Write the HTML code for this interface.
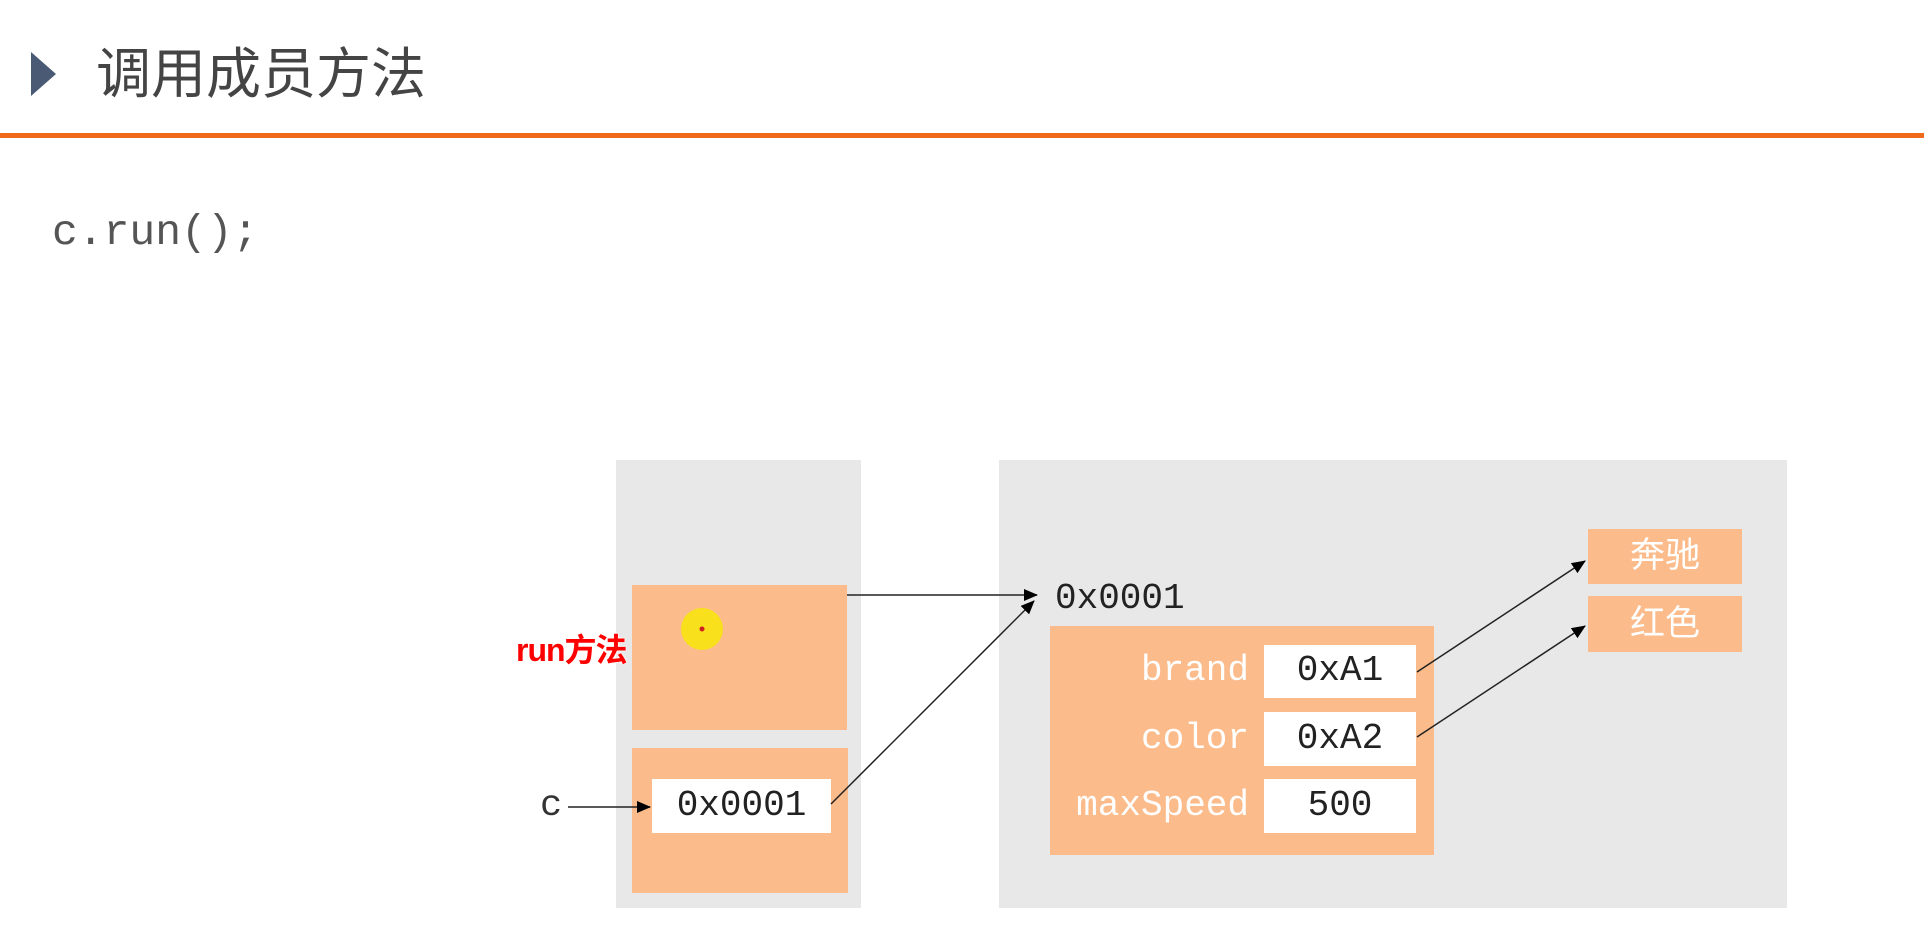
<!DOCTYPE html>
<html><head><meta charset="utf-8"><style>
body{margin:0;width:1924px;height:952px;background:#fff;position:relative;overflow:hidden;font-family:"Liberation Sans","Noto Sans CJK SC",sans-serif}
.a{position:absolute}
.mono{font-family:"Liberation Mono","Noto Sans CJK SC",monospace}
</style></head><body>
<svg class="a" style="left:0;top:0" width="1924" height="952">
<polygon points="31,52 56,74 31,96" fill="#4a5a75"/>
<rect x="0" y="133" width="1924" height="5" fill="#f06a1c"/>
<rect x="616" y="460" width="245" height="448" fill="#e8e8e8"/>
<rect x="999" y="460" width="788" height="448" fill="#e8e8e8"/>
<rect x="632" y="585" width="215" height="145" fill="#fbbb8b"/>
<rect x="632" y="748" width="216" height="145" fill="#fbbb8b"/>
<rect x="652" y="779" width="179" height="54" fill="#fff"/>
<rect x="1050" y="626" width="384" height="229" fill="#fbbb8b"/>
<rect x="1264" y="645" width="152" height="53" fill="#fff"/>
<rect x="1264" y="712" width="152" height="54" fill="#fff"/>
<rect x="1264" y="779" width="152" height="54" fill="#fff"/>
<rect x="1588" y="529" width="154" height="55" fill="#fbbb8b"/>
<rect x="1588" y="596" width="154" height="56" fill="#fbbb8b"/>
<circle cx="702" cy="629" r="21" fill="#f8e01c"/>
<circle cx="702" cy="629" r="2.5" fill="#d02020"/>
<defs><marker id="m" markerWidth="14" markerHeight="12" refX="13" refY="6" orient="auto" markerUnits="userSpaceOnUse"><path d="M0,0 L14,6 L0,12 z" fill="#000"/></marker></defs>
<g stroke="#222" stroke-width="1.5" fill="none" marker-end="url(#m)">
<line x1="568" y1="807" x2="650" y2="807"/>
<line x1="847" y1="595" x2="1037" y2="595"/>
<line x1="831" y1="804" x2="1034" y2="601"/>
<line x1="1417" y1="672" x2="1585" y2="561"/>
<line x1="1417" y1="737" x2="1585" y2="626"/>
</g>
</svg>
<div class="a" style="left:96px;top:42px;font-size:55px;color:#444;line-height:64px">调用成员方法</div>
<div class="a mono" style="left:52px;top:210px;font-size:43px;color:#555;line-height:46px">c.run();</div>
<div class="a mono" style="left:540px;top:786px;font-size:37px;color:#333;line-height:40px">c</div>
<div class="a mono" style="left:652px;top:786px;width:179px;text-align:center;font-size:36px;color:#222;line-height:40px">0x0001</div>
<div class="a mono" style="left:1055px;top:579px;font-size:36px;color:#222;line-height:40px">0x0001</div>
<div class="a mono" style="left:1050px;top:651px;width:199px;text-align:right;font-size:36px;color:#fff;line-height:40px">brand</div>
<div class="a mono" style="left:1050px;top:719px;width:199px;text-align:right;font-size:36px;color:#fff;line-height:40px">color</div>
<div class="a mono" style="left:1050px;top:786px;width:199px;text-align:right;font-size:36px;color:#fff;line-height:40px">maxSpeed</div>
<div class="a mono" style="left:1264px;top:651px;width:152px;text-align:center;font-size:36px;color:#222;line-height:40px">0xA1</div>
<div class="a mono" style="left:1264px;top:719px;width:152px;text-align:center;font-size:36px;color:#222;line-height:40px">0xA2</div>
<div class="a mono" style="left:1264px;top:786px;width:152px;text-align:center;font-size:36px;color:#222;line-height:40px">500</div>
<div class="a" style="left:1588px;top:536px;width:154px;text-align:center;font-size:35px;color:#fff;line-height:40px">奔驰</div>
<div class="a" style="left:1588px;top:604px;width:154px;text-align:center;font-size:35px;color:#fff;line-height:40px">红色</div>
<div class="a" style="left:516px;top:630px;font-size:32px;font-weight:bold;color:#f00;line-height:40px;letter-spacing:-1px;text-shadow:0 0 2px #fff,0 0 2px #fff">run方法</div>
</body></html>
